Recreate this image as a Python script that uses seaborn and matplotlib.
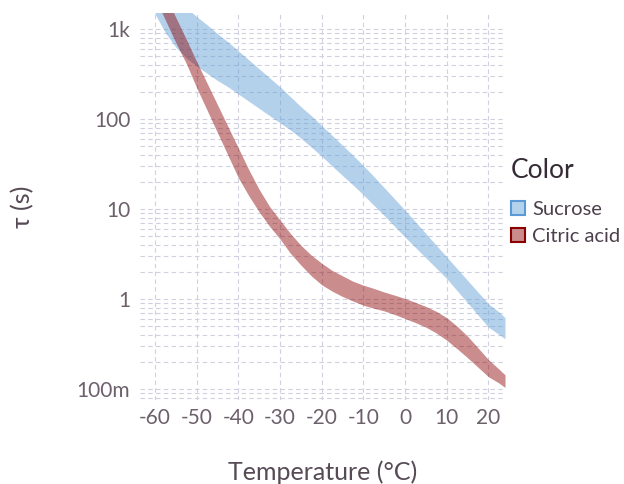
import matplotlib
matplotlib.use("Agg")
import matplotlib.pyplot as plt
from matplotlib.patches import Patch
from matplotlib.ticker import FixedLocator, NullFormatter
import seaborn as sns
import numpy as np

# temperature grid (°C) and band edges, as log10(tau / s)
temps = [-60, -57.5, -55, -52.5, -50, -47.5, -45, -42.5, -40, -37.5,
         -35, -32.5, -30, -27.5, -25, -22.5, -20, -17.5, -15, -12.5,
         -10, -7.5, -5, -2.5, 0, 2.5, 5, 7.5, 10, 12.5,
         15, 17.5, 20, 22.5, 24]

sucrose_hi = [3.50, 3.42, 3.33, 3.24, 3.14, 3.05, 2.95, 2.86, 2.76, 2.66,
              2.56, 2.46, 2.36, 2.25, 2.14, 2.04, 1.93, 1.82, 1.71, 1.60,
              1.485, 1.365, 1.24, 1.115, 0.99, 0.86, 0.73, 0.60, 0.47, 0.34,
              0.21, 0.08, -0.05, -0.14, -0.205]
sucrose_lo = [3.17, 2.96, 2.80, 2.68, 2.59, 2.51, 2.43, 2.36, 2.28, 2.20,
              2.12, 2.04, 1.96, 1.88, 1.79, 1.69, 1.59, 1.48, 1.375, 1.27,
              1.16, 1.045, 0.93, 0.81, 0.69, 0.575, 0.46, 0.345, 0.23, 0.095,
              -0.04, -0.175, -0.31, -0.39, -0.44]

citric_hi = [3.62, 3.38, 3.13, 2.89, 2.64, 2.40, 2.16, 1.92, 1.68, 1.44,
             1.22, 1.03, 0.88, 0.73, 0.60, 0.49, 0.40, 0.32, 0.26, 0.20,
             0.156, 0.12, 0.08, 0.045, 0.008, -0.035, -0.08, -0.135, -0.205, -0.30,
             -0.41, -0.54, -0.67, -0.775, -0.84]
citric_lo = [3.35, 3.10, 2.85, 2.62, 2.35, 2.10, 1.85, 1.60, 1.35, 1.15,
             0.97, 0.81, 0.67, 0.51, 0.38, 0.26, 0.16, 0.09, 0.03, -0.02,
             -0.067, -0.10, -0.13, -0.17, -0.214, -0.26, -0.31, -0.375, -0.455, -0.55,
             -0.65, -0.755, -0.86, -0.93, -0.98]

series = ["Sucrose", "Citric acid"]
colors = ["#5a9bd5", "#8b0000"]

x_ticks = [-60, -50, -40, -30, -20, -10, 0, 10, 20]
y_ticks = [0.1, 1, 10, 100, 1000]
y_tick_labels = ["100m", "1", "10", "100", "1k"]

sns.set_theme(style="white")
plt.rcParams["font.family"] = ["Lato", "DejaVu Sans"]

fig = plt.figure(figsize=(6.24, 4.84), dpi=100)
ax = fig.add_axes([140 / 624, 1 - 400 / 484, 365 / 624, 387 / 484])

bands = [(sucrose_lo, sucrose_hi), (citric_lo, citric_hi)]
for (lo, hi), c in zip(bands, colors):
    ax.fill_between(temps, 10 ** np.array(lo), 10 ** np.array(hi),
                    color=c, alpha=0.45, linewidth=0, zorder=3)

ax.set_yscale("log")
ax.set_xlim(-63.6, 24)
ax.set_ylim(10 ** -1.12, 10 ** 3.18)

ax.xaxis.set_major_locator(FixedLocator(x_ticks))
ax.set_xticklabels([str(t) for t in x_ticks])
ax.yaxis.set_major_locator(FixedLocator(y_ticks))
ax.set_yticklabels(y_tick_labels)
minor = [m * 10.0 ** k for k in range(-2, 4) for m in range(2, 10)]
ax.yaxis.set_minor_locator(FixedLocator(minor))
ax.yaxis.set_minor_formatter(NullFormatter())

grid_kw = dict(color="#d0d0e0", linewidth=0.8, linestyle=(0, (4, 3)))
ax.grid(True, which="major", axis="both", **grid_kw)
ax.grid(True, which="minor", axis="y", **grid_kw)
ax.set_axisbelow(True)
for s in ax.spines.values():
    s.set_visible(False)

ax.tick_params(axis="both", which="both", length=0, labelsize=15,
               labelcolor="#6c606b")
ax.tick_params(axis="x", pad=6)
ax.tick_params(axis="y", pad=7)

ax.set_xlabel("Temperature (°C)", fontsize=18, color="#564a55", va="top")
ax.xaxis.set_label_coords(0.5, -0.155)
ax.set_ylabel("τ (s)", fontsize=18, color="#564a55")
ax.yaxis.set_label_coords(-0.29, 0.5)

# legend: title drawn separately to get the wider gap above the entries
fig.text(511 / 624, 1 - 171 / 484, "Color", fontsize=19, color="#362a35",
         ha="left", va="center")
handles = []
for n, c in zip(series, colors):
    rgb = np.array(matplotlib.colors.to_rgb(c))
    handles.append(Patch(facecolor=1 - 0.45 * (1 - rgb), edgecolor=c,
                         linewidth=1.5, label=n))
leg = fig.legend(handles=handles, loc="upper left",
                 bbox_to_anchor=(511 / 624, 1 - 201 / 484), frameon=False,
                 fontsize=14.5, handlelength=0.7, handleheight=0.7,
                 handletextpad=0.36, labelspacing=0.5, borderpad=0,
                 borderaxespad=0)
for t in leg.get_texts():
    t.set_color("#4c404b")

fig.savefig("out.png", dpi=100)
